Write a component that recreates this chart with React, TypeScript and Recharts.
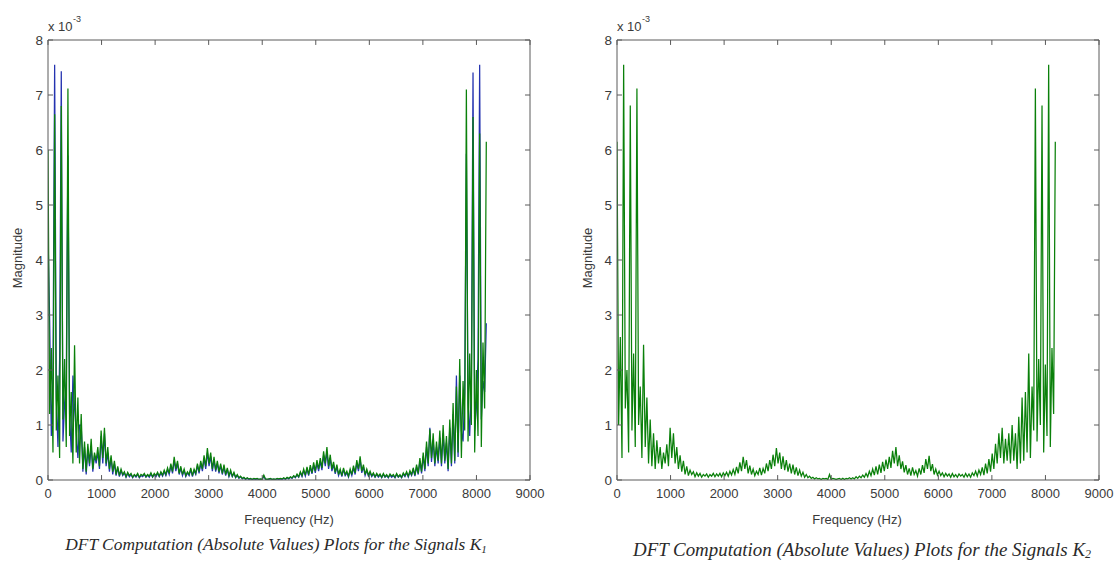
import React from 'react';
import { LineChart, Line, XAxis, YAxis, ReferenceLine } from 'recharts';

// Frequency bin width (Hz) of the DFT samples
const BIN_HZ = 31;

const xTicks = [0, 1000, 2000, 3000, 4000, 5000, 6000, 7000, 8000, 9000];
const yTicks = [0, 1, 2, 3, 4, 5, 6, 7, 8];

// Magnitudes in units of 1e-3
const k1Green = [
  6.0, 1.2, 2.4, 0.5, 6.65, 0.9, 1.9, 0.4, 6.8, 1.1,
  2.2, 0.6, 7.12, 0.8, 1.6, 0.3, 2.45, 0.5, 1.5, 0.3,
  1.2, 0.2, 0.7, 0.15, 0.66, 0.3, 0.75, 0.2, 0.5, 0.35,
  0.6, 0.25, 0.9, 0.4, 0.95, 0.3, 0.6, 0.2, 0.45, 0.15,
  0.35, 0.1, 0.25, 0.08, 0.2, 0.1, 0.15, 0.06, 0.14, 0.08,
  0.12, 0.05, 0.1, 0.07, 0.12, 0.05, 0.1, 0.08, 0.12, 0.06,
  0.1, 0.07, 0.13, 0.06, 0.12, 0.08, 0.14, 0.07, 0.15, 0.09,
  0.18, 0.1, 0.22, 0.12, 0.3, 0.15, 0.42, 0.2, 0.35, 0.12,
  0.25, 0.1, 0.2, 0.08, 0.15, 0.1, 0.22, 0.08, 0.2, 0.12,
  0.3, 0.15, 0.35, 0.2, 0.45, 0.25, 0.58, 0.3, 0.5, 0.2,
  0.42, 0.18, 0.35, 0.15, 0.3, 0.12, 0.28, 0.1, 0.22, 0.08,
  0.18, 0.07, 0.14, 0.05, 0.1, 0.04, 0.07, 0.03, 0.05, 0.02,
  0.04, 0.02, 0.03, 0.01, 0.03, 0.02, 0.03, 0.01, 0.02, 0.01,
  0.09, 0.02, 0.01,
  0.02, 0.03, 0.01, 0.02, 0.01, 0.03, 0.02,
  0.03, 0.02, 0.04, 0.02, 0.05, 0.03, 0.06, 0.04, 0.08, 0.05,
  0.11, 0.06, 0.15, 0.08, 0.2, 0.09, 0.24, 0.1, 0.27, 0.13,
  0.32, 0.16, 0.36, 0.2, 0.4, 0.22, 0.52, 0.3, 0.6, 0.25,
  0.46, 0.2, 0.33, 0.14, 0.28, 0.1, 0.2, 0.08, 0.22, 0.1,
  0.16, 0.07, 0.2, 0.1, 0.26, 0.13, 0.36, 0.2, 0.43, 0.16,
  0.28, 0.1, 0.2, 0.09, 0.16, 0.08, 0.13, 0.06, 0.12, 0.07,
  0.11, 0.05, 0.12, 0.06, 0.1, 0.05, 0.11, 0.07, 0.1, 0.05,
  0.12, 0.06, 0.1, 0.05, 0.13, 0.08, 0.15, 0.07, 0.17, 0.1,
  0.22, 0.09, 0.28, 0.12, 0.4, 0.15, 0.5, 0.2, 0.7, 0.3,
  0.92, 0.4, 0.85, 0.3, 0.7, 0.35, 0.9, 0.3, 1.0, 0.35,
  0.8, 0.2, 1.1, 0.3, 1.4, 0.35, 1.7, 0.5, 2.2, 0.4,
  1.8, 0.9, 7.1, 0.7, 2.3, 1.0, 6.6, 0.5, 2.0, 0.8,
  6.3, 0.6, 2.5, 1.3, 6.15,
];

const k1Blue = [
  4.45, 2.9, 0.8, 1.9, 7.55, 1.5, 0.6, 2.2, 7.43, 0.7,
  1.4, 1.8, 5.9, 1.2, 0.5, 1.9, 1.3, 0.9, 0.4, 1.0,
  1.0, 0.15, 0.6, 0.1, 0.55, 0.25, 0.6, 0.15, 0.45, 0.3,
  0.5, 0.2, 0.8, 0.3, 0.85, 0.25, 0.5, 0.15, 0.4, 0.1,
  0.3, 0.08, 0.22, 0.06, 0.17, 0.08, 0.13, 0.05, 0.12, 0.06,
  0.1, 0.04, 0.09, 0.05, 0.1, 0.04, 0.08, 0.06, 0.1, 0.05,
  0.09, 0.05, 0.11, 0.05, 0.1, 0.06, 0.12, 0.06, 0.13, 0.07,
  0.15, 0.08, 0.19, 0.1, 0.26, 0.12, 0.36, 0.16, 0.3, 0.1,
  0.21, 0.08, 0.17, 0.06, 0.13, 0.08, 0.19, 0.06, 0.17, 0.1,
  0.26, 0.12, 0.3, 0.16, 0.39, 0.2, 0.5, 0.25, 0.43, 0.16,
  0.36, 0.15, 0.3, 0.12, 0.26, 0.1, 0.24, 0.08, 0.19, 0.06,
  0.15, 0.06, 0.12, 0.04, 0.08, 0.03, 0.06, 0.02, 0.04, 0.01,
  0.03, 0.01, 0.02, 0.01, 0.02, 0.01, 0.02, 0.01, 0.01, 0.01,
  0.07, 0.01, 0.01,
  0.01, 0.02, 0.01, 0.01, 0.01, 0.02, 0.01,
  0.02, 0.01, 0.03, 0.01, 0.04, 0.02, 0.05, 0.03, 0.07, 0.04,
  0.09, 0.05, 0.13, 0.06, 0.17, 0.07, 0.2, 0.08, 0.23, 0.11,
  0.27, 0.13, 0.31, 0.16, 0.34, 0.18, 0.45, 0.25, 0.52, 0.2,
  0.39, 0.16, 0.28, 0.11, 0.24, 0.08, 0.17, 0.06, 0.19, 0.08,
  0.13, 0.05, 0.17, 0.08, 0.22, 0.1, 0.31, 0.16, 0.37, 0.13,
  0.24, 0.08, 0.17, 0.07, 0.13, 0.06, 0.11, 0.05, 0.1, 0.05,
  0.09, 0.04, 0.1, 0.05, 0.08, 0.04, 0.09, 0.05, 0.08, 0.04,
  0.1, 0.05, 0.08, 0.04, 0.11, 0.06, 0.13, 0.05, 0.14, 0.08,
  0.19, 0.07, 0.24, 0.1, 0.34, 0.12, 0.43, 0.16, 0.6, 0.25,
  0.95, 0.33, 0.72, 0.25, 0.6, 0.3, 0.77, 0.25, 0.85, 0.3,
  0.68, 0.16, 0.95, 0.25, 1.2, 0.3, 1.9, 0.42, 1.9, 0.9,
  0.7, 1.6, 5.93, 1.4, 0.8, 1.7, 7.41, 0.9, 1.3, 2.2,
  7.55, 1.1, 1.8, 1.6, 2.85,
];

const k2Green = [
  6.15, 1.0, 2.6, 0.4, 7.55, 1.3, 2.0, 0.5, 6.81, 0.9,
  2.3, 0.6, 7.12, 1.0, 1.7, 0.4, 2.46, 0.6, 1.5, 0.3,
  1.1, 0.25, 0.85, 0.2, 0.72, 0.3, 0.6, 0.2, 0.5, 0.3,
  0.65, 0.25, 0.95, 0.4, 0.85, 0.3, 0.6, 0.2, 0.45, 0.15,
  0.35, 0.1, 0.25, 0.08, 0.18, 0.1, 0.15, 0.06, 0.13, 0.07,
  0.12, 0.05, 0.1, 0.07, 0.11, 0.05, 0.1, 0.07, 0.12, 0.06,
  0.11, 0.07, 0.12, 0.06, 0.13, 0.08, 0.14, 0.07, 0.16, 0.09,
  0.19, 0.1, 0.24, 0.12, 0.32, 0.16, 0.42, 0.2, 0.36, 0.12,
  0.26, 0.1, 0.2, 0.08, 0.16, 0.1, 0.22, 0.09, 0.21, 0.12,
  0.3, 0.16, 0.36, 0.2, 0.46, 0.25, 0.58, 0.3, 0.5, 0.2,
  0.43, 0.18, 0.36, 0.15, 0.3, 0.12, 0.28, 0.1, 0.23, 0.08,
  0.18, 0.07, 0.14, 0.05, 0.1, 0.04, 0.07, 0.03, 0.05, 0.02,
  0.04, 0.02, 0.03, 0.01, 0.03, 0.02, 0.03, 0.01, 0.1, 0.01,
  0.03, 0.02, 0.01,
  0.02, 0.03, 0.01, 0.03, 0.01, 0.03, 0.02,
  0.04, 0.02, 0.04, 0.02, 0.06, 0.03, 0.07, 0.04, 0.09, 0.05,
  0.12, 0.06, 0.16, 0.08, 0.2, 0.09, 0.25, 0.1, 0.28, 0.13,
  0.33, 0.16, 0.37, 0.2, 0.42, 0.22, 0.53, 0.3, 0.6, 0.25,
  0.45, 0.2, 0.34, 0.14, 0.27, 0.1, 0.21, 0.08, 0.23, 0.1,
  0.17, 0.07, 0.21, 0.1, 0.27, 0.13, 0.38, 0.2, 0.44, 0.16,
  0.29, 0.1, 0.2, 0.09, 0.16, 0.08, 0.13, 0.06, 0.12, 0.07,
  0.11, 0.05, 0.12, 0.06, 0.1, 0.05, 0.11, 0.07, 0.1, 0.05,
  0.12, 0.06, 0.11, 0.05, 0.13, 0.08, 0.16, 0.07, 0.18, 0.1,
  0.23, 0.09, 0.3, 0.12, 0.38, 0.15, 0.48, 0.2, 0.66, 0.3,
  0.85, 0.4, 0.95, 0.3, 0.75, 0.35, 0.85, 0.3, 1.0, 0.35,
  0.85, 0.2, 1.15, 0.3, 1.5, 0.35, 1.6, 0.5, 2.3, 0.4,
  1.7, 0.9, 7.12, 0.7, 2.2, 1.0, 6.81, 0.5, 2.1, 0.8,
  7.55, 0.6, 2.4, 1.2, 6.15,
];

const k1Rows = k1Green.map((g, i) => ({ f: i * BIN_HZ, green: g, blue: k1Blue[i] }));
const k2Rows = k2Green.map((g, i) => ({ f: i * BIN_HZ, green: g }));

const X_MAX = 9000;
const Y_MAX = 8;
// inward tick mark lengths, expressed in axis units (about 5 px)
const TICK_DX = 93;
const TICK_DY = 0.09;

const AXIS_COLOR = '#5a5a5a';
const LABEL_COLOR = '#3a3a3a';
const FONT = 'Liberation Sans, Arial, sans-serif';
const GREEN = '#0a800a';
const BLUE = '#2433b0';
const LINE_W = 1.25;

const BottomTick = (props: any) => {
  const { x, y, payload } = props;
  return (
    <text x={x} y={y + 18} textAnchor="middle" fontSize={13} fontFamily={FONT} fill={LABEL_COLOR}>
      {payload.value}
    </text>
  );
};

const LeftTick = (props: any) => {
  const { x, y, payload } = props;
  return (
    <text x={x - 5} y={y + 5} textAnchor="end" fontSize={13.5} fontFamily={FONT} fill={LABEL_COLOR}>
      {payload.value}
    </text>
  );
};

const CHART_W = 560;
const CHART_H = 561;
const MARGIN = { top: 40, right: 30, bottom: 51, left: 0 };

function tickMarks() {
  const out: any[] = [];
  xTicks.forEach((t) => {
    out.push(
      <ReferenceLine key={`xb${t}`} xAxisId="b" yAxisId="l" stroke={AXIS_COLOR}
        segment={[{ x: t, y: 0 }, { x: t, y: TICK_DY }]} />,
      <ReferenceLine key={`xt${t}`} xAxisId="b" yAxisId="l" stroke={AXIS_COLOR}
        segment={[{ x: t, y: Y_MAX }, { x: t, y: Y_MAX - TICK_DY }]} />
    );
  });
  yTicks.forEach((t) => {
    out.push(
      <ReferenceLine key={`yl${t}`} xAxisId="b" yAxisId="l" stroke={AXIS_COLOR}
        segment={[{ x: 0, y: t }, { x: TICK_DX, y: t }]} />,
      <ReferenceLine key={`yr${t}`} xAxisId="b" yAxisId="l" stroke={AXIS_COLOR}
        segment={[{ x: X_MAX, y: t }, { x: X_MAX - TICK_DX, y: t }]} />
    );
  });
  return out;
}

function Panel({ rows, showBlue }: { rows: any[]; showBlue: boolean }) {
  return (
    <LineChart width={CHART_W} height={CHART_H} data={rows} margin={MARGIN}>
      <XAxis
        xAxisId="b"
        type="number"
        dataKey="f"
        domain={[0, X_MAX]}
        ticks={xTicks}
        interval={0}
        tickSize={0}
        tickMargin={0}
        tickLine={false}
        tick={<BottomTick />}
        axisLine={{ stroke: AXIS_COLOR }}
        height={30}
        allowDataOverflow
      />
      <YAxis
        yAxisId="l"
        type="number"
        domain={[0, Y_MAX]}
        ticks={yTicks}
        interval={0}
        tickSize={0}
        tickMargin={0}
        tickLine={false}
        tick={<LeftTick />}
        axisLine={{ stroke: AXIS_COLOR }}
        width={48}
        allowDataOverflow
      />
      {showBlue && (
        <Line
          xAxisId="b"
          yAxisId="l"
          type="linear"
          dataKey="blue"
          stroke={BLUE}
          strokeWidth={LINE_W}
          dot={false}
          isAnimationActive={false}
        />
      )}
      <Line
        xAxisId="b"
        yAxisId="l"
        type="linear"
        dataKey="green"
        stroke={GREEN}
        strokeWidth={LINE_W}
        dot={false}
        isAnimationActive={false}
      />
      <ReferenceLine xAxisId="b" yAxisId="l" y={Y_MAX} stroke={AXIS_COLOR} />
      <ReferenceLine xAxisId="b" yAxisId="l" x={X_MAX} stroke={AXIS_COLOR} />
      {tickMarks()}
    </LineChart>
  );
}

export default function App() {
  return (
    <div style={{ position: 'absolute', left: 0, top: 0, width: 1115, height: 561, background: '#fff', overflow: 'hidden' }}>
      <div style={{ position: 'absolute', left: 0, top: 0 }}>
        <Panel rows={k1Rows} showBlue={true} />
      </div>
      <div style={{ position: 'absolute', left: 569, top: 0 }}>
        <Panel rows={k2Rows} showBlue={false} />
      </div>
      <svg width={1115} height={561} style={{ position: 'absolute', left: 0, top: 0, pointerEvents: 'none' }}>
        <g fontFamily={FONT} fill={LABEL_COLOR}>
          <text x={48} y={31} fontSize={13}>x 10</text>
          <text x={73} y={22} fontSize={9}>-3</text>
          <text x={617} y={31} fontSize={13}>x 10</text>
          <text x={642} y={22} fontSize={9}>-3</text>
          <text x={289} y={524} fontSize={13} textAnchor="middle">Frequency (Hz)</text>
          <text x={857} y={524} fontSize={13} textAnchor="middle">Frequency (Hz)</text>
          <text transform="translate(22,258) rotate(-90)" fontSize={13} textAnchor="middle">Magnitude</text>
          <text transform="translate(592,258) rotate(-90)" fontSize={13} textAnchor="middle">Magnitude</text>
        </g>
        <g fontFamily="Liberation Serif, Times New Roman, serif" fontStyle="italic" fill="#2a2a2a">
          <text x={276} y={550} fontSize={17.4} textAnchor="middle">
            DFT Computation (Absolute Values) Plots for the Signals K<tspan fontSize={11} dy={3}>1</tspan>
          </text>
          <text x={862} y={556} fontSize={18.9} textAnchor="middle">
            DFT Computation (Absolute Values) Plots for the Signals K<tspan fontSize={12} dy={2}>2</tspan>
          </text>
        </g>
      </svg>
    </div>
  );
}
